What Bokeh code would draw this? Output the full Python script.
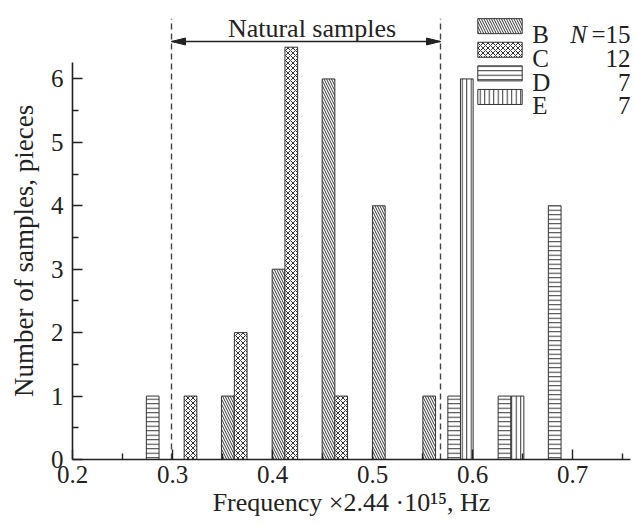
from bokeh.plotting import figure
from bokeh.models import Range1d, FixedTicker, Label, PrintfTickFormatter
from bokeh.embed import file_html
from bokeh.resources import INLINE

# ---- data ----
b_freq = [0.3553, 0.406, 0.456, 0.5063, 0.5567]
b_count = [1, 3, 6, 4, 1]
c_freq = [0.318, 0.3682, 0.4188, 0.4687]
c_count = [1, 2, 6.5, 1]
d_freq = [0.2802, 0.5817, 0.632, 0.6822]
d_count = [1, 1, 1, 4]
e_freq = [0.5943, 0.645]
e_count = [6, 1]
series_names = ["B", "C", "D", "E"]
series_n = ["15", "12", "7", "7"]
x_ticks = [0.2, 0.3, 0.4, 0.5, 0.6, 0.7]
x_minor_ticks = [0.25, 0.35, 0.45, 0.55, 0.65, 0.75]
y_ticks = [0, 1, 2, 3, 4, 5, 6]
y_minor_ticks = [0.5, 1.5, 2.5, 3.5, 4.5, 5.5]
natural_bounds = [0.299, 0.568]

FONT = "Liberation Serif"
INK = "#222222"

p = figure(width=635, height=525, x_range=Range1d(0.2, 0.758), y_range=Range1d(0, 7.11),
           output_backend="svg", toolbar_location=None,
           min_border_left=72, min_border_right=5, min_border_top=8, min_border_bottom=66)
p.outline_line_color = None
p.grid.visible = False
p.background_fill_color = "white"

for ax in (p.xaxis[0], p.yaxis[0]):
    ax.axis_line_color = INK
    ax.axis_line_width = 1.6
    ax.major_tick_in = 10
    ax.major_tick_out = 0
    ax.minor_tick_in = 6
    ax.minor_tick_out = 0
    ax.major_tick_line_color = INK
    ax.major_tick_line_width = 1.4
    ax.minor_tick_line_color = INK
    ax.minor_tick_line_width = 1.4
    ax.major_label_text_font = FONT
    ax.major_label_text_font_size = "25px"
    ax.major_label_text_color = INK
    ax.axis_label_text_font = FONT
    ax.axis_label_text_font_style = "normal"
    ax.axis_label_text_color = INK

p.xaxis.ticker = FixedTicker(ticks=x_ticks, minor_ticks=x_minor_ticks)
p.xaxis.formatter = PrintfTickFormatter(format="%.1f")
p.xaxis.major_label_standoff = 6
p.xaxis.axis_label = "Frequency \u00d72.44 \u00b710\u00b9\u2075, Hz"
p.xaxis.axis_label_text_font_size = "26px"
p.xaxis.axis_label_standoff = 2

p.yaxis.ticker = FixedTicker(ticks=y_ticks, minor_ticks=y_minor_ticks)
p.yaxis.major_label_standoff = 9
p.yaxis.bounds = (0, 6.26)
# trailing no-break spaces nudge the centred title down to where the reference has it
p.yaxis.axis_label = "Number of samples, pieces" + "\u00a0" * 5
p.yaxis.axis_label_text_font_size = "27px"
p.yaxis.axis_label_standoff = 9

# ---- bars ----
bar_w = 0.0127
styles = {
    "B": dict(hatch_pattern="left_diagonal_line", hatch_scale=5),
    "C": dict(hatch_pattern="diagonal_cross", hatch_scale=5),
    "D": dict(hatch_pattern="horizontal_line", hatch_scale=4.5),
    "E": dict(hatch_pattern="vertical_line", hatch_scale=4.5),
}
series = {"B": (b_freq, b_count), "C": (c_freq, c_count),
          "D": (d_freq, d_count), "E": (e_freq, e_count)}
for name in series_names:
    fx, fy = series[name]
    p.vbar(x=fx, top=fy, bottom=0, width=bar_w, fill_color="white",
           line_color="#333333", line_width=1, hatch_color="#333333",
           hatch_weight=1, **styles[name])

# ---- natural samples range ----
p.segment(x0=natural_bounds, y0=[0, 0], x1=natural_bounds, y1=[6.95, 6.95],
          line_color="#444444", line_width=1.4, line_dash="6 4")
arrow_y = 6.59
p.segment(x0=[natural_bounds[0]], y0=[arrow_y], x1=[natural_bounds[1]], y1=[arrow_y],
          line_color=INK, line_width=1.3)
hl, hw = 0.014, 0.055
a0, a1 = natural_bounds
p.patches(xs=[[a0, a0 + hl, a0 + hl], [a1, a1 - hl, a1 - hl]],
          ys=[[arrow_y, arrow_y + hw, arrow_y - hw], [arrow_y, arrow_y + hw, arrow_y - hw]],
          fill_color=INK, line_color=INK, line_width=1)
p.add_layout(Label(x=(a0 + a1) / 2 + 0.006, y=6.79, text="Natural samples", text_align="center",
                   text_baseline="alphabetic", text_font=FONT, text_font_size="26px",
                   text_color=INK))

# ---- legend ----
leg_l, leg_r = 0.6053, 0.6497
row_step, box_h, top0 = 0.372, 0.237, 6.95
for i, name in enumerate(series_names):
    top = top0 - i * row_step
    p.quad(left=[leg_l], right=[leg_r], top=[top], bottom=[top - box_h], fill_color="white",
           line_color="#333333", line_width=1, hatch_color="#333333", hatch_weight=1,
           **styles[name])
    p.add_layout(Label(x=0.6597, y=top - box_h - 0.02, text=name, text_align="left",
                       text_baseline="alphabetic", text_font=FONT, text_font_size="25px",
                       text_color=INK))
    p.add_layout(Label(x=0.758, y=top - box_h - 0.02, text=("=" if i == 0 else "") + series_n[i],
                       text_align="right", text_baseline="alphabetic", text_font=FONT,
                       text_font_size="25px", text_color=INK))
p.add_layout(Label(x=0.7145, y=top0 - box_h - 0.02, text="N", text_align="right",
                   text_baseline="alphabetic", text_font=FONT, text_font_style="italic",
                   text_font_size="25px", text_color=INK))

open("out.html", "w").write(file_html(p, INLINE))
